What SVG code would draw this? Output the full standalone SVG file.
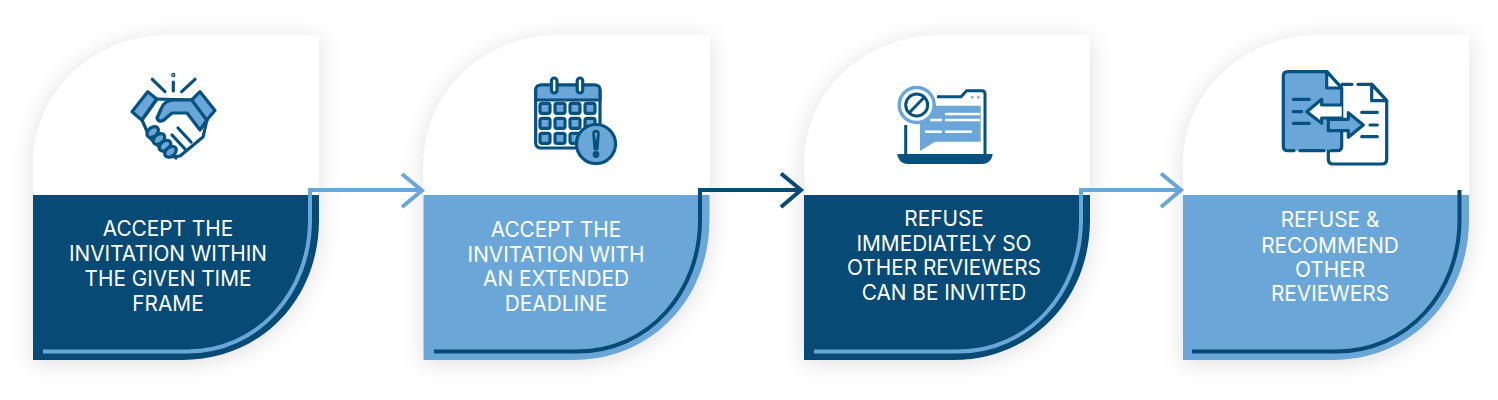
<svg xmlns="http://www.w3.org/2000/svg" xmlns:xlink="http://www.w3.org/1999/xlink" width="1498" height="400" viewBox="0 0 1498 400">
<style>
.lbl{font-family:"Inter","Liberation Sans",sans-serif;font-size:20.8px;fill:#fff;text-anchor:middle}
.dk{fill:#064a75}.lt{fill:#6aa7d8}.wh{fill:#fff}
.conn{fill:none;stroke-width:4;stroke-linejoin:miter}
.cd{stroke:#064a75}.cl{stroke:#6aa7d8}
.i{stroke:#05517f;stroke-width:3.200;stroke-linecap:round;stroke-linejoin:round}
.in{fill:none}.ib{fill:#6aa7d8}.iw{fill:#fff}
</style>
<defs>
<filter id="sh" x="-20%" y="-20%" width="140%" height="140%"><feDropShadow dx="0" dy="3" stdDeviation="11" flood-color="#000" flood-opacity=".13"/></filter>
<path id="whole" d="M33 360V165C33 90 95 35 170 35H319V220C319 300 260 360 183 360Z"/>
<path id="top" d="M33 195V165C33 90 95 35 170 35H319V195Z"/>
<path id="bot" d="M33 195H319V220C319 300 260 360 183 360H33Z"/>
</defs>
<rect width="1498" height="400" fill="#fff"/>

<g id="node-1">
<use href="#whole" class="wh" filter="url(#sh)"/><use href="#top" class="wh"/><use href="#bot" class="dk"/>
<text class="lbl" x="168" y="236">ACCEPT THE</text><text class="lbl" x="168" y="260.500">INVITATION WITHIN</text><text class="lbl" x="168" y="285.500">THE GIVEN TIME</text><text class="lbl" x="168" y="310.500">FRAME</text>
<g class="i">
<path class="iw" d="M142 120L157 99L192 100L207 120L203 137L180 156L170 157L150 138Z"/>
<path class="ib" d="M195 100H175C167 100 163 103 161 109L157 118C158 122 162 122 165 119L172 113H187L200 130L207 120Z"/>
<path class="ib" d="M132 111.700L147.700 91.700L156.700 99L141.700 120Z"/>
<path class="ib" d="M215 110.500L200 91.700L191.700 100L206.700 120Z"/>
<path class="in" d="M178 128L191 142M172 135L185 149M168 151L176 158"/>
<ellipse class="ib" cx="152.700" cy="132" rx="6.500" ry="4.500" transform="rotate(-40 152.700 132)"/>
<ellipse class="ib" cx="159" cy="139" rx="6.500" ry="4.500" transform="rotate(-40 159 139)"/>
<ellipse class="ib" cx="165" cy="145.700" rx="6.500" ry="4.500" transform="rotate(-40 165 145.700)"/>
<ellipse class="ib" cx="170.500" cy="151.700" rx="6.500" ry="4.500" transform="rotate(-40 170.500 151.700)"/>
<path class="in" d="M152.300 79.300L165 91.700M173.300 82V91M195 79.300L181.700 91.700"/>
<circle cx="173.300" cy="75" r=".6"/>
</g>
</g>

<g id="node-2">
<use href="#whole" x="390.500" class="wh" filter="url(#sh)"/><use href="#top" x="390.500" class="wh"/><use href="#bot" x="390.500" class="lt"/>
<text class="lbl" x="556" y="237">ACCEPT THE</text><text class="lbl" x="556" y="261.500">INVITATION WITH</text><text class="lbl" x="556" y="285.500">AN EXTENDED</text><text class="lbl" x="556" y="310.500">DEADLINE</text>
<g class="i">
<rect class="iw" x="535.700" y="85" width="64.300" height="63" rx="5"/>
<path class="ib" d="M535.700 100V90C535.700 87 538 85 541 85H595C598 85 600 87 600 90V100Z"/>
<rect class="iw" x="551.500" y="78" width="5.500" height="15" rx="2.750"/><rect class="iw" x="577.200" y="78" width="5.500" height="15" rx="2.750"/>
<g class="ib">
<rect x="540" y="103.300" width="10" height="10" rx="2"/><rect x="555" y="103.300" width="10" height="10" rx="2"/><rect x="570" y="103.300" width="10" height="10" rx="2"/><rect x="585" y="103.300" width="10" height="10" rx="2"/>
<rect x="540" y="118.300" width="10" height="10" rx="2"/><rect x="555" y="118.300" width="10" height="10" rx="2"/><rect x="570" y="118.300" width="10" height="10" rx="2"/><rect x="585" y="118.300" width="10" height="10" rx="2"/>
<rect x="540" y="133.300" width="10" height="10" rx="2"/><rect x="555" y="133.300" width="10" height="10" rx="2"/><rect x="570" y="133.300" width="10" height="10" rx="2"/>
</g>
<circle class="ib" cx="596" cy="144" r="19.500"/>
<path class="iw" d="M593.800 133.500C593.800 130.500 598.200 130.500 598.200 133.500L597 149H595Z"/>
<circle class="iw" cx="596" cy="154.500" r="1.800"/>
</g>
</g>

<g id="node-3">
<use href="#whole" x="771" class="wh" filter="url(#sh)"/><use href="#top" x="771" class="wh"/><use href="#bot" x="771" class="dk"/>
<text class="lbl" x="944" y="226">REFUSE</text><text class="lbl" x="944" y="251">IMMEDIATELY SO</text><text class="lbl" x="944" y="275">OTHER REVIEWERS</text><text class="lbl" x="944" y="300">CAN BE INVITED</text>
<path class="ib" d="M935 105.700H980.700V141.700H935L920 151V118Z"/>
<path fill="none" stroke="#fff" stroke-width="2.500" d="M945 114H980M945 120H980M930 120H942M925 131.700H942M945 131.700H972"/>
<path fill="none" stroke="#05517f" stroke-width="3" d="M905.700 125V154M937 96.700H961L966.700 90.700H982Q985 90.700 985 94V154"/>
<circle cx="972.300" cy="97.300" r="1.300" fill="#6aa7d8"/><circle cx="978.300" cy="97.300" r="1.300" fill="#6aa7d8"/>
<path fill="#05517f" d="M897.300 154H992.700C992 160 988 164 982 164H908C902 164 898 160 897.300 154Z"/>
<circle cx="916.700" cy="105" r="17.500" fill="#fff" stroke="#6aa7d8" stroke-width="3.500"/>
<circle cx="916.700" cy="105" r="11" fill="none" stroke="#05517f" stroke-width="3"/>
<path stroke="#05517f" stroke-width="3" d="M909 113L924.500 97"/>
</g>

<g id="node-4">
<use href="#whole" x="1150" class="wh" filter="url(#sh)"/><use href="#top" x="1150" class="wh"/><use href="#bot" x="1150" class="lt"/>
<text class="lbl" x="1330" y="227">REFUSE &amp;</text><text class="lbl" x="1330" y="252.500">RECOMMEND</text><text class="lbl" x="1330" y="277">OTHER</text><text class="lbl" x="1330" y="301">REVIEWERS</text>
<g class="i">
<path class="ib" stroke="none" d="M1283.300 76.500Q1283.300 71.700 1288 71.700H1326.700L1341.700 88V146Q1341.700 150.700 1337 150.700H1288Q1283.300 150.700 1283.300 146Z"/>
<path class="in" d="M1342 84.300H1352M1358 84.300H1371.700L1386.700 100.700V159Q1386.700 164 1382 164H1333Q1328.300 164 1328.300 159V151"/>
<path class="in" d="M1341.700 88V146Q1341.700 150.700 1337 150.700H1331M1324 150.700H1300M1294 150.700H1288Q1283.300 150.700 1283.300 146V76.500Q1283.300 71.700 1288 71.700H1326.700L1341.700 88"/>
<path class="iw" d="M1326.700 71.700V88H1341.700Z"/><path class="iw" d="M1371.700 84.300V100.700H1386.700Z"/>
<path class="iw" d="M1341.700 105H1321.700V99.300L1306.700 111.700L1321.700 123.300V118H1341.700"/>
<path class="ib" d="M1328.300 119.300H1348.300V112.700L1363.300 125L1348.300 137.300V130.700H1328.300Z"/>
<path class="in" d="M1293.300 99.300H1309.300M1293.300 111.700H1301.700M1293.300 123.300H1309.300M1361.700 112.300H1377.300M1370 125H1377.300M1361.700 136.700H1377.300"/>
</g>
</g>

<g id="connectors">
<path class="conn cl" d="M43 351.500H187C258 351.500 310 292 310 220V190H420"/>
<path class="conn cl" d="M402 174L422 190.500L402 207"/>
<path class="conn cd" d="M434 351.500H577C649 351.500 700 292 700 220V190H800"/>
<path class="conn cd" d="M781 173.500L801 190L781 207"/>
<path class="conn cl" d="M814 351.500H958C1029 351.500 1081 292 1081 220V190H1180"/>
<path class="conn cl" d="M1161 173.500L1181 190L1161 207"/>
<path class="conn cd" d="M1192 351.500H1336C1408 351.500 1459.500 292 1459.500 220V190"/>
</g>
</svg>
